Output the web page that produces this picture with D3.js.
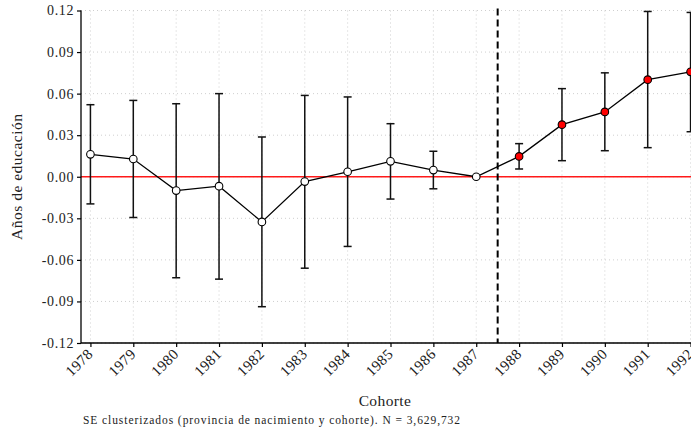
<!DOCTYPE html>
<html lang="es">
<head>
<meta charset="UTF-8">
<title>Cohorte - Años de educación</title>
<script src="https://d3js.org/d3.v7.min.js"></script>
<style>
  *{margin:0;padding:0}
  body{background:#fff;width:691px;height:432px;overflow:hidden}
  svg text{font-family:'Liberation Serif','DejaVu Serif',serif;fill:#222}
</style>
</head>
<body>
<svg id="chart" width="691" height="432"></svg>
<script>
/* ---------- DATA ---------- */
const cohorts = [1978,1979,1980,1981,1982,1983,1984,1985,1986,1987,1988,1989,1990,1991,1992];
const coefs   = [0.0162,0.0128,-0.0100,-0.0068,-0.0326,-0.0035,0.0036,0.0111,0.0048,0.0,0.0147,0.0376,0.0468,0.0701,0.0757];
const ciLow   = [-0.0196,-0.0294,-0.0729,-0.0739,-0.0938,-0.0660,-0.0503,-0.0161,-0.0087,null,0.0056,0.0116,0.0188,0.0210,0.0325];
const ciHigh  = [0.0520,0.0551,0.0527,0.0600,0.0287,0.0587,0.0576,0.0383,0.0184,null,0.0239,0.0636,0.0750,0.1193,0.1186];
const yTicks  = [-0.12,-0.09,-0.06,-0.03,0,0.03,0.06,0.09,0.12];
const cutoff  = 1987.5;

const rows = cohorts.map((c,i)=>({year:c,b:coefs[i],lo:ciLow[i],hi:ciHigh[i]}));

/* ---------- LAYOUT ---------- */
const plot = {left:81, right:700, top:10.5, bottom:343};
const svg = d3.select('#chart');

const x = d3.scaleLinear().domain([1977.78,1992.22]).range([plot.left,plot.right]);
const y = d3.scaleLinear().domain([-0.12,0.12]).range([plot.bottom,plot.top]);

/* ---- grid ---- */
const grid = svg.append('g').attr('stroke','#cfcfcf').attr('stroke-width',1).attr('stroke-dasharray','1,3');
grid.selectAll('.gx').data(cohorts).enter().append('line')
    .attr('x1',d=>x(d)).attr('x2',d=>x(d)).attr('y1',plot.top).attr('y2',plot.bottom);
grid.selectAll('.gy').data(yTicks).enter().append('line')
    .attr('x1',plot.left).attr('x2',plot.right).attr('y1',d=>y(d)).attr('y2',d=>y(d));

/* ---- zero line + cutoff ---- */
svg.append('line').attr('x1',plot.left).attr('x2',plot.right).attr('y1',y(0)).attr('y2',y(0))
   .attr('stroke','#ff1a1a').attr('stroke-width',1.4);
svg.append('line').attr('x1',x(cutoff)).attr('x2',x(cutoff)).attr('y1',plot.top-2).attr('y2',plot.bottom)
   .attr('stroke','#000').attr('stroke-width',2).attr('stroke-dasharray','7,4');

/* ---- axes ---- */
const yAxis = svg.append('g').attr('transform',`translate(${plot.left},0)`)
   .call(d3.axisLeft(y).tickValues(yTicks).tickSize(4).tickPadding(3).tickFormat(d3.format('.2f')));
yAxis.select('.domain').attr('stroke','#000').attr('stroke-width',1.3).attr('d',`M0,${plot.top}V${plot.bottom}`);
yAxis.selectAll('.tick line').attr('stroke','#000').attr('stroke-width',1.2);
yAxis.selectAll('.tick text').attr('font-size',14).attr('letter-spacing',0.6).attr('fill','#222')
     .text(d=>d3.format('.2f')(d).replace('−','-'));

const xAxis = svg.append('g').attr('transform',`translate(0,${plot.bottom})`)
   .call(d3.axisBottom(x).tickValues(cohorts).tickSize(4).tickFormat(d3.format('d')));
xAxis.select('.domain').attr('stroke','#000').attr('stroke-width',1.3).attr('d',`M${plot.left},0H${plot.right}`);
xAxis.selectAll('.tick line').attr('stroke','#000').attr('stroke-width',1.2);
xAxis.selectAll('.tick text').attr('font-size',15).attr('letter-spacing',0.4).attr('fill','#222')
     .attr('text-anchor','end').attr('dy',0).attr('y',0)
     .attr('transform','translate(3,12) rotate(-45)');

/* ---- error bars ---- */
const eb = svg.append('g').attr('stroke','#111').attr('stroke-width',1.5);
const withCI = rows.filter(d=>d.lo!==null);
eb.selectAll('.v').data(withCI).enter().append('line')
  .attr('x1',d=>x(d.year)).attr('x2',d=>x(d.year)).attr('y1',d=>y(d.lo)).attr('y2',d=>y(d.hi));
eb.selectAll('.c1').data(withCI).enter().append('line')
  .attr('x1',d=>x(d.year)-4).attr('x2',d=>x(d.year)+4).attr('y1',d=>y(d.lo)).attr('y2',d=>y(d.lo));
eb.selectAll('.c2').data(withCI).enter().append('line')
  .attr('x1',d=>x(d.year)-4).attr('x2',d=>x(d.year)+4).attr('y1',d=>y(d.hi)).attr('y2',d=>y(d.hi));

/* ---- line + markers ---- */
svg.append('path').datum(rows)
   .attr('fill','none').attr('stroke','#000').attr('stroke-width',1.3)
   .attr('d',d3.line().x(d=>x(d.year)).y(d=>y(d.b)));
svg.append('g').selectAll('circle').data(rows).enter().append('circle')
   .attr('cx',d=>x(d.year)).attr('cy',d=>y(d.b)).attr('r',3.8)
   .attr('fill',d=>d.year>cutoff?'#ff0000':'#fff')
   .attr('stroke','#000').attr('stroke-width',1.1);

/* ---- labels ---- */
svg.append('text').attr('transform',`translate(22,${(plot.top+plot.bottom)/2}) rotate(-90)`)
   .attr('text-anchor','middle').attr('font-size',15.5).attr('letter-spacing',0.5).text('Años de educación');
svg.append('text').attr('x',385).attr('y',406).attr('text-anchor','middle')
   .attr('font-size',15.5).attr('letter-spacing',0.4).text('Cohorte');
svg.append('text').attr('x',83).attr('y',424).attr('font-size',11.5)
   .attr('textLength',377).attr('lengthAdjust','spacing')
   .text('SE clusterizados (provincia de nacimiento y cohorte). N = 3,629,732');
</script>
</body>
</html>
